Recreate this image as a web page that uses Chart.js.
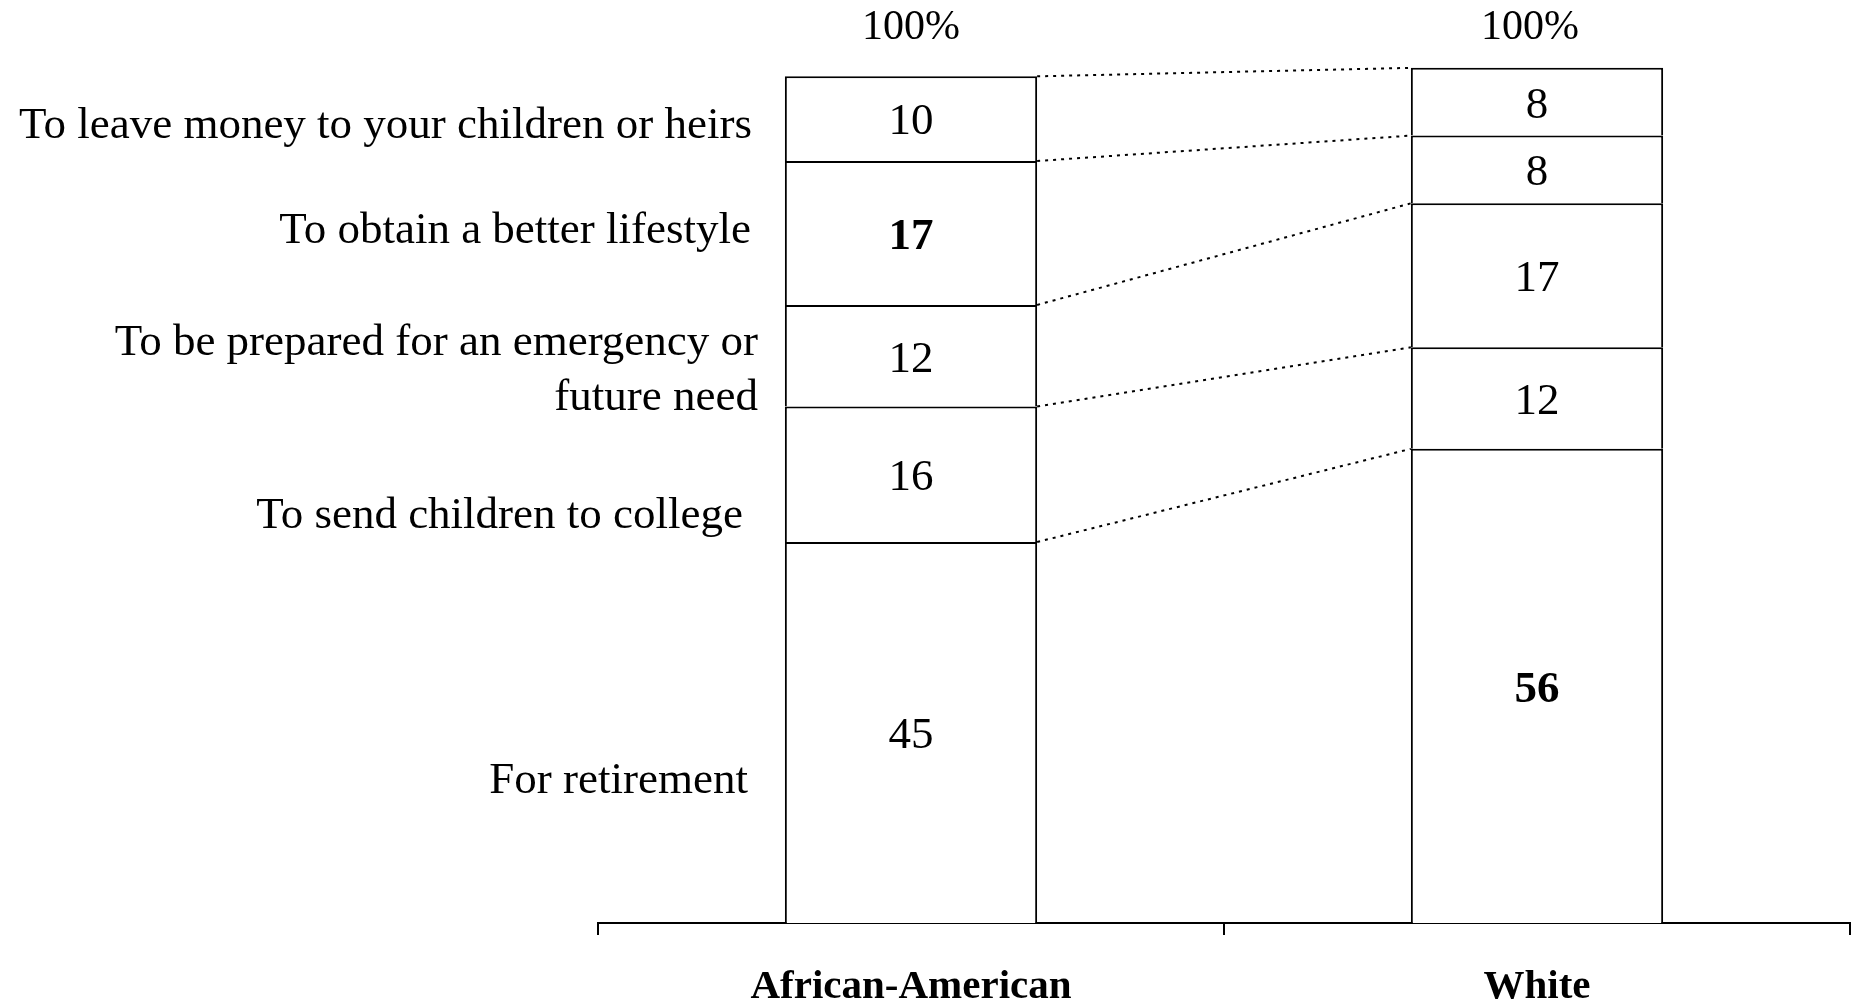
<!DOCTYPE html>
<html>
<head>
<meta charset="utf-8">
<script src="https://cdn.jsdelivr.net/npm/chart.js@4.4.1/dist/chart.umd.min.js"></script>
<style>
    html, body { margin: 0; padding: 0; background: #fff; }
    #wrap { width: 1862px; height: 1003px; }
</style>
</head>
<body>
<div id="wrap"><canvas id="bar-chart"></canvas></div>
<script>
// categories and stacked series (bottom to top)
var categories = ['African-American', 'White'];
var retirement = [45, 56];
var college = [16, 12];
var emergency = [12, 17];
var lifestyle = [17, 8];
var leaveMoney = [10, 8];
var totalLabels = ['100%', '100%'];

var seriesNames = [
    'For retirement',
    'To send children to college',
    ['To be prepared for an emergency or', 'future need'],
    'To obtain a better lifestyle',
    'To leave money to your children or heirs'
];
var seriesValues = [retirement, college, emergency, lifestyle, leaveMoney];

// where the side labels sit, in value units on the y scale, and their right edges
var labelAnchors = [16.8, 48, 65.2, 81.7, 94.1];
var labelRight = [150, 145, 160, 153, 154];
// which cells get bold numbers: [dataset, category]
var boldCells = [[3, 0], [0, 1]];

var FONT = '"Liberation Serif", "Times New Roman", serif';

var datasets = seriesValues.map(function(vals, i){
    return {
        label: Array.isArray(seriesNames[i]) ? seriesNames[i].join(' ') : seriesNames[i],
        data: vals,
        backgroundColor: '#ffffff',
        borderColor: '#000000',
        borderWidth: 2,
        borderSkipped: 'start',
        categoryPercentage: 1,
        barPercentage: 0.403
    };
});

var annotate = {
    id: 'annotate',
    afterDatasetsDraw: function(chart){
        var ctx = chart.ctx;
        var area = chart.chartArea;
        var yScale = chart.scales.y;
        ctx.save();

        // dotted connectors between matching boundaries
        ctx.strokeStyle = '#000';
        ctx.lineWidth = 2;
        ctx.setLineDash([3, 5]);
        chart.data.datasets.forEach(function(ds, k){
            var a = chart.getDatasetMeta(k).data[0];
            var b = chart.getDatasetMeta(k).data[1];
            ctx.beginPath();
            ctx.moveTo(a.x + a.width / 2, a.y);
            ctx.lineTo(b.x - b.width / 2, b.y);
            ctx.stroke();
        });
        ctx.setLineDash([]);

        // numbers inside segments
        ctx.fillStyle = '#000';
        ctx.textAlign = 'center';
        ctx.textBaseline = 'middle';
        chart.data.datasets.forEach(function(ds, k){
            chart.getDatasetMeta(k).data.forEach(function(el, i){
                var bold = boldCells.some(function(c){ return c[0] === k && c[1] === i; });
                ctx.font = (bold ? 'bold ' : '') + '45px ' + FONT;
                ctx.fillText(String(ds.data[i]), el.x, (el.y + el.base) / 2 + 4);
            });
        });

        // 100% on top
        ctx.font = '42px ' + FONT;
        var meta0 = chart.getDatasetMeta(0);
        totalLabels.forEach(function(t, i){
            ctx.fillText(t, meta0.data[i].x - i * 7, area.top - 6);
        });

        // side labels
        ctx.textAlign = 'right';
        ctx.font = '45px ' + FONT;
        seriesNames.forEach(function(name, k){
            var lines = Array.isArray(name) ? name : [name];
            var yc = yScale.getPixelForValue(labelAnchors[k]);
            lines.forEach(function(line, j){
                var y = yc + (j - (lines.length - 1) / 2) * 55;
                ctx.fillText(line, area.left + labelRight[k], y);
            });
        });
        ctx.restore();
    }
};

new Chart(document.getElementById('bar-chart'), {
    type: 'bar',
    data: {
        labels: categories,
        datasets: datasets
    },
    options: {
        responsive: true,
        maintainAspectRatio: false,
        animation: false,
        layout: {
            padding: { left: 598, right: 12, top: 34, bottom: 0 }
        },
        plugins: {
            legend: { display: false },
            tooltip: { enabled: false }
        },
        scales: {
            x: {
                stacked: true,
                grid: {
                    offset: true,
                    drawOnChartArea: false,
                    drawTicks: true,
                    tickLength: 12,
                    color: '#000',
                    lineWidth: 2
                },
                border: { display: true, color: '#000', width: 2 },
                ticks: {
                    color: '#000',
                    padding: 28,
                    font: { family: FONT, size: 41, weight: 'bold' }
                },
                afterFit: function(scale){ scale.height = 80; }
            },
            y: {
                stacked: true,
                display: false,
                min: 0,
                max: 105
            }
        }
    },
    plugins: [annotate]
});
</script>
</body>
</html>
